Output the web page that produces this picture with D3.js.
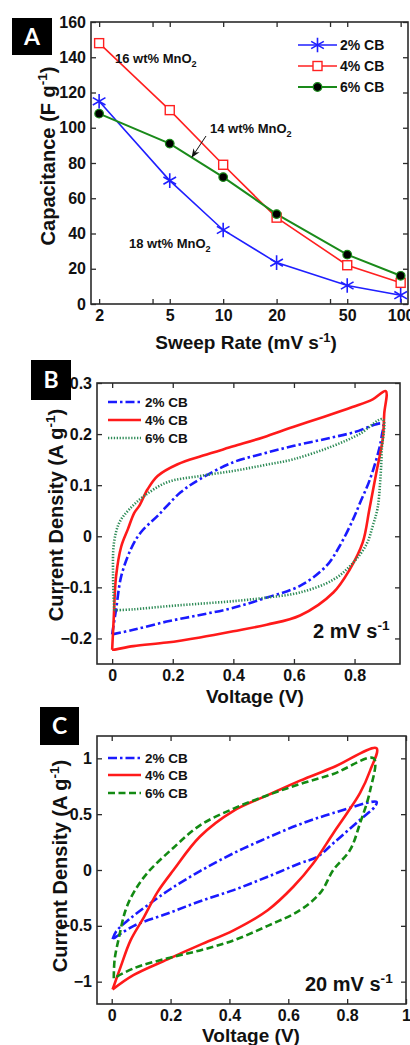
<!DOCTYPE html>
<html>
<head>
<meta charset="utf-8">
<script src="https://cdn.jsdelivr.net/npm/d3@7"></script>
<style>
  body { margin: 0; background: #fff; }
  svg { display: block; font-family: "Liberation Sans", Arial, sans-serif; font-weight: bold; }
</style>
</head>
<body>
<svg id="fig" width="410" height="1045"></svg>
<script>
// ---------- Panel A: capacitance vs sweep rate ----------
const sweepRates = [2, 5, 10, 20, 50, 100];
const cap2CB = [115, 70, 42, 23.5, 10.5, 5];
const cap4CB = [148, 110, 79, 49, 22, 12];
const cap6CB = [108, 91, 72, 51, 28, 16];
const seriesNames = ["2% CB", "4% CB", "6% CB"];
const rateTicks = [2, 4, 5, 10, 20, 40, 50, 100];
const rateLabels = [2, 5, 10, 20, 50, 100];
const capTicks = [0, 20, 40, 60, 80, 100, 120, 140, 160];

// ---------- Panel B: CV loops at 2 mV/s  [voltage, current] ----------
const cv2_2CB = [[0.000,-0.192],[0.013,-0.143],[0.030,-0.078],[0.062,-0.025],[0.095,0.008],[0.150,0.040],[0.226,0.086],[0.290,0.112],[0.400,0.145],[0.500,0.162],[0.600,0.177],[0.700,0.190],[0.795,0.203],[0.893,0.220],
  [0.890,0.198],[0.880,0.168],[0.850,0.110],[0.820,0.068],[0.795,0.033],[0.750,-0.020],[0.707,-0.058],[0.620,-0.097],[0.510,-0.120],[0.400,-0.140],[0.290,-0.154],[0.180,-0.167],[0.070,-0.183],[0.000,-0.192]];
const cv2_4CB = [[0.000,-0.222],[0.005,-0.163],[0.013,-0.078],[0.030,-0.020],[0.052,0.014],[0.073,0.046],[0.090,0.060],[0.117,0.092],[0.150,0.118],[0.216,0.141],[0.300,0.158],[0.400,0.176],[0.500,0.194],[0.597,0.214],[0.700,0.234],[0.793,0.253],[0.860,0.268],[0.903,0.284],
  [0.898,0.240],[0.893,0.190],[0.872,0.125],[0.849,0.053],[0.827,-0.012],[0.784,-0.065],[0.730,-0.110],[0.620,-0.155],[0.510,-0.173],[0.400,-0.186],[0.290,-0.198],[0.180,-0.208],[0.070,-0.215],[0.005,-0.222],[0.000,-0.222]];
const cv2_6CB = [[0.007,-0.145],[0.003,-0.078],[0.006,-0.013],[0.024,0.027],[0.057,0.053],[0.106,0.079],[0.183,0.106],[0.290,0.118],[0.400,0.128],[0.500,0.139],[0.600,0.151],[0.730,0.177],[0.816,0.200],[0.893,0.229],
  [0.890,0.170],[0.885,0.110],[0.876,0.055],[0.860,0.020],[0.840,-0.015],[0.795,-0.052],[0.730,-0.085],[0.620,-0.110],[0.510,-0.120],[0.400,-0.127],[0.290,-0.132],[0.180,-0.137],[0.070,-0.143],[0.007,-0.145]];

// ---------- Panel C: CV loops at 20 mV/s ----------
const cv20_2CB = [[0.003,-0.62],[0.015,-0.55],[0.060,-0.44],[0.130,-0.30],[0.200,-0.17],[0.300,-0.01],[0.414,0.15],[0.530,0.29],[0.640,0.41],[0.753,0.51],[0.900,0.61],
  [0.895,0.57],[0.844,0.45],[0.753,0.24],[0.700,0.12],[0.640,0.06],[0.530,-0.06],[0.414,-0.18],[0.300,-0.28],[0.190,-0.39],[0.075,-0.50],[0.003,-0.62]];
const cv20_4CB = [[0.003,-1.07],[0.030,-0.87],[0.064,-0.63],[0.110,-0.42],[0.155,-0.20],[0.210,0.00],[0.300,0.30],[0.414,0.53],[0.530,0.67],[0.640,0.80],[0.753,0.92],[0.900,1.09],
  [0.878,0.89],[0.844,0.69],[0.800,0.51],[0.753,0.33],[0.685,0.06],[0.617,-0.15],[0.530,-0.36],[0.414,-0.54],[0.300,-0.67],[0.190,-0.80],[0.075,-0.94],[0.003,-1.07]];
const cv20_6CB = [[0.007,-0.97],[0.010,-0.80],[0.025,-0.60],[0.047,-0.36],[0.075,-0.20],[0.120,-0.03],[0.210,0.20],[0.300,0.40],[0.414,0.55],[0.530,0.67],[0.640,0.77],[0.753,0.86],[0.890,1.00],
  [0.878,0.71],[0.844,0.42],[0.810,0.18],[0.753,0.00],[0.710,-0.20],[0.640,-0.36],[0.530,-0.50],[0.414,-0.63],[0.300,-0.72],[0.190,-0.79],[0.075,-0.88],[0.007,-0.97]];

const voltTicks = [0, 0.2, 0.4, 0.6, 0.8];
const voltTicksC = [0, 0.2, 0.4, 0.6, 0.8, 1];
const curTicksB = [-0.2, -0.1, 0, 0.1, 0.2, 0.3];
const curTicksC = [-1, -0.5, 0, 0.5, 1];

const svg = d3.select("#fig");
const frameColor = "#2b2b2b";

function frame(g, x, y, xt, yt, xFmt, yFmt, fontSize) {
  const [x0, x1] = x.range(), [y0, y1] = y.range();
  const ax = g.append("g").attr("transform", `translate(0,${y0})`)
    .call(d3.axisBottom(x).tickValues(xt).tickSize(-5).tickPadding(6).tickFormat(xFmt));
  const axT = g.append("g").attr("transform", `translate(0,${y1})`)
    .call(d3.axisTop(x).tickValues(xt).tickSize(-5).tickFormat(""));
  const ay = g.append("g").attr("transform", `translate(${x0},0)`)
    .call(d3.axisLeft(y).tickValues(yt).tickSize(-5).tickPadding(5).tickFormat(yFmt));
  const ayR = g.append("g").attr("transform", `translate(${x1},0)`)
    .call(d3.axisRight(y).tickValues(yt).tickSize(-5).tickFormat(""));
  [ax, axT, ay, ayR].forEach(a => {
    a.select(".domain").remove();
    a.selectAll("line").attr("stroke", frameColor).attr("stroke-width", 1.3);
    a.selectAll("text").attr("fill", "#111").style("font-size", fontSize + "px")
      .style("font-weight", "bold").style("font-family", "Liberation Sans, Arial, sans-serif");
  });
  g.append("rect").attr("x", x0).attr("y", y1).attr("width", x1 - x0).attr("height", y0 - y1)
    .attr("fill", "none").attr("stroke", frameColor).attr("stroke-width", 1.6);
  return { ax, ay };
}

function panelTag(x, y, w, h, letter) {
  svg.append("rect").attr("x", x).attr("y", y).attr("width", w).attr("height", h).attr("fill", "#000");
  svg.append("text").attr("x", x + w / 2).attr("y", y + h / 2 + 8).attr("text-anchor", "middle")
    .attr("fill", "#fff").style("font-size", "23px").style("font-family", "Lato, Open Sans, sans-serif")
    .text(letter);
}

function supText(sel, base, sup, tail, size) {
  sel.append("tspan").text(base);
  sel.append("tspan").attr("dy", -size * 0.38).style("font-size", (size * 0.68) + "px").text(sup);
  if (tail) sel.append("tspan").attr("dy", size * 0.38).text(tail);
}
function subText(sel, base, sub, size) {
  sel.append("tspan").text(base);
  sel.append("tspan").attr("dy", size * 0.3).style("font-size", (size * 0.7) + "px").text(sub);
}

function yTitle(x, cy, base, sup, tail, size) {
  const t = svg.append("text").attr("transform", `translate(${x},${cy}) rotate(-90)`)
    .attr("text-anchor", "middle").style("font-size", size + "px").attr("fill", "#111");
  supText(t, base, sup, tail, size);
}

// ================= Panel A =================
{
  const g = svg.append("g");
  const x = d3.scaleLog().domain([1.8, 110]).range([91, 408]);
  const y = d3.scaleLinear().domain([0, 160]).range([304, 22]);
  frame(g, x, y, rateTicks, capTicks, d => rateLabels.includes(d) ? String(d) : "", d => d, 16);

  const line = d3.line().x((d, i) => x(sweepRates[i])).y(d => y(d));
  const cfg = [
    { vals: cap2CB, color: "#1f1fff", w: 1.6, marker: "star" },
    { vals: cap4CB, color: "#ff2020", w: 1.6, marker: "square" },
    { vals: cap6CB, color: "#1a8a1a", w: 2, marker: "dot" }
  ];
  const star = d3.symbol().type(d3.symbolAsterisk).size(150);
  function drawMarker(sel, type, color, px, py) {
    if (type === "star") {
      sel.append("path").attr("d", star()).attr("transform", `translate(${px},${py})`)
        .attr("stroke", color).attr("stroke-width", 1.6).attr("fill", "none");
    } else if (type === "square") {
      sel.append("rect").attr("x", px - 4.5).attr("y", py - 4.5).attr("width", 9).attr("height", 9)
        .attr("fill", "#fff").attr("stroke", color).attr("stroke-width", 1.4);
    } else {
      sel.append("circle").attr("cx", px).attr("cy", py).attr("r", 4.3)
        .attr("fill", "#000").attr("stroke", color).attr("stroke-width", 1.2);
    }
  }
  cfg.forEach(c => {
    g.append("path").attr("d", line(c.vals)).attr("fill", "none").attr("stroke", c.color).attr("stroke-width", c.w);
  });
  cfg.forEach(c => {
    c.vals.forEach((v, i) => drawMarker(g, c.marker, c.color, x(sweepRates[i]), y(v)));
  });

  // legend
  const ly = [45, 66, 87];
  cfg.forEach((c, i) => {
    g.append("line").attr("x1", 298).attr("x2", 337).attr("y1", ly[i]).attr("y2", ly[i])
      .attr("stroke", c.color).attr("stroke-width", c.w);
    drawMarker(g, c.marker, c.color, 317.5, ly[i]);
    g.append("text").attr("x", 340).attr("y", ly[i] + 5).style("font-size", "14px").attr("fill", "#111")
      .text(seriesNames[i]);
  });

  // annotations
  const notes = [[115, 63, "16 wt% MnO"], [210, 133, "14 wt% MnO"], [129, 248, "18 wt% MnO"]];
  notes.forEach(n => {
    const t = g.append("text").attr("x", n[0]).attr("y", n[1]).style("font-size", "13px").attr("fill", "#111");
    subText(t, n[2], "2", 13);
  });
  svg.append("defs").append("marker").attr("id", "arrowA").attr("viewBox", "0 0 10 10")
    .attr("refX", 9).attr("refY", 5).attr("markerWidth", 9).attr("markerHeight", 9).attr("orient", "auto")
    .append("path").attr("d", "M0,1 L10,5 L0,9 L3,5 Z").attr("fill", "#111");
  g.append("line").attr("x1", 206).attr("y1", 136).attr("x2", 192).attr("y2", 157)
    .attr("stroke", "#111").attr("stroke-width", 1).attr("marker-end", "url(#arrowA)");

  yTitle(55, 156, "Capacitance (F g", "-1", ")", 20);
  const xt = svg.append("text").attr("x", 246).attr("y", 349).attr("text-anchor", "middle")
    .style("font-size", "19px").attr("fill", "#111");
  supText(xt, "Sweep Rate (mV s", "-1", ")", 19);
  panelTag(12, 18, 40, 37, "A");
}

// ================= CV panels =================
function cvPanel(opts) {
  const g = svg.append("g");
  const x = d3.scaleLinear().domain(opts.xDomain).range([opts.left, opts.right]);
  const y = d3.scaleLinear().domain(opts.yDomain).range([opts.bottom, opts.top]);
  frame(g, x, y, opts.xTicks, opts.yTicks, d => d3.format("")(d), d => d3.format("")(d), 16);

  const clipId = "clip" + opts.tag;
  g.append("clipPath").attr("id", clipId).append("rect")
    .attr("x", opts.left).attr("y", opts.top).attr("width", opts.right - opts.left).attr("height", opts.bottom - opts.top);
  const line = d3.line().x(d => x(d[0])).y(d => y(d[1])).curve(d3.curveCatmullRom.alpha(0.5));
  opts.series.forEach(s => {
    g.append("path").attr("d", line(s.data)).attr("fill", "none").attr("stroke", s.color)
      .attr("stroke-width", s.w).attr("stroke-dasharray", s.dash).attr("clip-path", `url(#${clipId})`)
      .attr("stroke-linejoin", "round");
  });
  opts.series.forEach((s, i) => {
    const ly = opts.legendY[i];
    g.append("line").attr("x1", 108).attr("x2", 141).attr("y1", ly).attr("y2", ly)
      .attr("stroke", s.color).attr("stroke-width", s.w).attr("stroke-dasharray", s.dash);
    g.append("text").attr("x", 145).attr("y", ly + 5).style("font-size", "13.5px").attr("fill", "#111")
      .text(seriesNames[i]);
  });
  const rt = g.append("text").attr("x", opts.rateX).attr("y", opts.rateY).style("font-size", "20px").attr("fill", "#111");
  supText(rt, opts.rateText, "-1", null, 20);

  yTitle(opts.yTitleX, opts.yTitleCY, "Current Density (A g", "-1", ")", 20);
  svg.append("text").attr("x", opts.xTitleX).attr("y", opts.xTitleY).attr("text-anchor", "middle")
    .style("font-size", "19px").attr("fill", "#111").text("Voltage (V)");
  panelTag(opts.tagBox[0], opts.tagBox[1], opts.tagBox[2], opts.tagBox[3], opts.tag);
}

cvPanel({
  tag: "B", left: 97, right: 400, top: 383, bottom: 664,
  xDomain: [-0.05, 0.95], yDomain: [-0.25, 0.3],
  xTicks: voltTicks, yTicks: curTicksB,
  series: [
    { data: cv2_2CB, color: "#1a1aff", w: 2.6, dash: "9,3,2.5,3" },
    { data: cv2_4CB, color: "#ff1a1a", w: 2.6, dash: null },
    { data: cv2_6CB, color: "#2e8b57", w: 2.6, dash: "1.3,1.6" }
  ],
  legendY: [402, 420, 438],
  rateX: 313, rateY: 638, rateText: "2 mV s",
  yTitleX: 63, yTitleCY: 515, xTitleX: 255, xTitleY: 703,
  tagBox: [31, 360, 40, 40]
});

cvPanel({
  tag: "C", left: 97, right: 406, top: 736, bottom: 1004,
  xDomain: [-0.05, 1], yDomain: [-1.2, 1.2],
  xTicks: voltTicksC, yTicks: curTicksC,
  series: [
    { data: cv20_2CB, color: "#1a1aff", w: 2.6, dash: "9,3,2.5,3" },
    { data: cv20_4CB, color: "#ff1a1a", w: 2.6, dash: null },
    { data: cv20_6CB, color: "#138a13", w: 2.6, dash: "7,3.5" }
  ],
  legendY: [758, 775, 793],
  rateX: 305, rateY: 991, rateText: "20 mV s",
  yTitleX: 67, yTitleCY: 866, xTitleX: 251, xTitleY: 1042,
  tagBox: [40, 707, 39, 38]
});
</script>
</body>
</html>
